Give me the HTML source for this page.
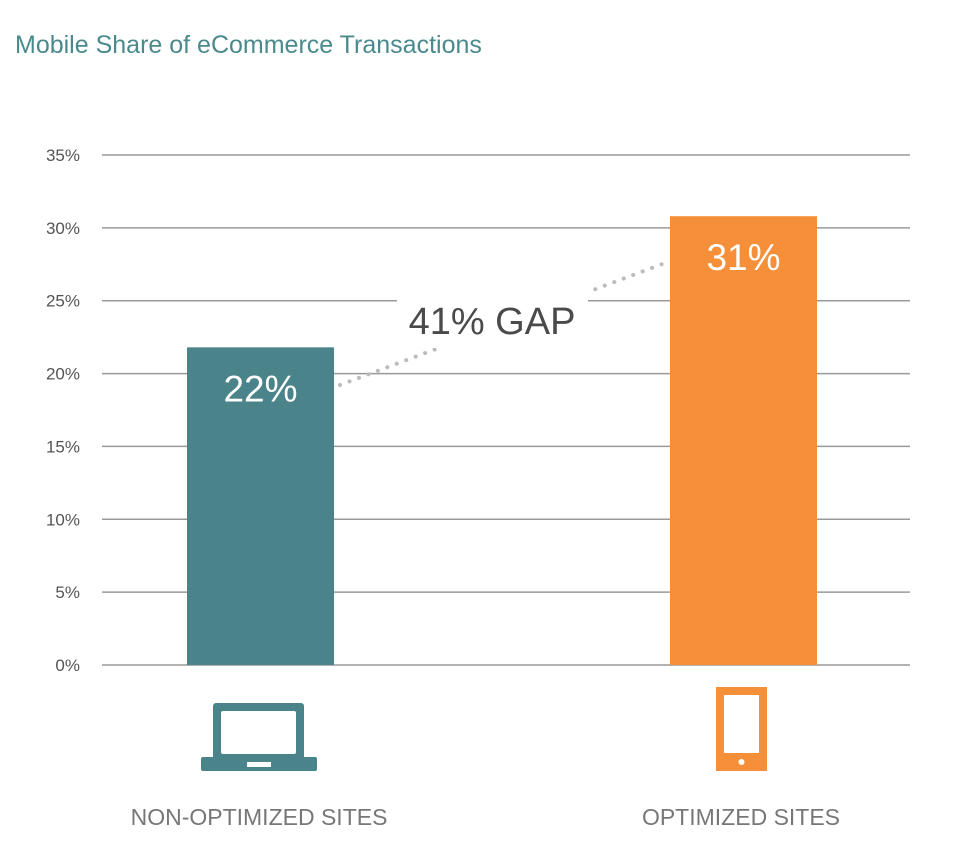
<!DOCTYPE html>
<html><head><meta charset="utf-8"><style>
body{margin:0;background:#fff;width:964px;height:844px;overflow:hidden;font-family:"Liberation Sans",sans-serif}
</style></head><body>
<svg width="964" height="844">
<text x="15" y="53" font-size="25" fill="#4a8a8c">Mobile Share of eCommerce Transactions</text>
<g id="grid"></g>
<g id="bars"></g>
<line x1="340" y1="385" x2="665" y2="263" stroke="#bbb" stroke-width="4" stroke-linecap="round" stroke-dasharray="0.1 10"/>
<rect x="397" y="290" width="191" height="58" fill="#fff"/>
<text x="492" y="334" font-size="38" fill="#4a4a4a" text-anchor="middle">41% GAP</text>
<g>
<rect x="213" y="703" width="91" height="57" rx="3" fill="#4a8389"/>
<rect x="221" y="711" width="75" height="43" rx="2" fill="#fff"/>
<rect x="201" y="757" width="116" height="14" rx="2" fill="#4a8389"/>
<rect x="247" y="762" width="24" height="5" fill="#fff"/>
</g>
<g>
<rect x="716" y="687" width="51" height="84" fill="#f68f3a"/>
<rect x="724" y="695" width="35" height="58" fill="#fff"/>
<circle cx="741.5" cy="762" r="3" fill="#fff"/>
</g>
<text x="259" y="825" font-size="23" fill="#777" text-anchor="middle">NON-OPTIMIZED SITES</text>
<text x="741" y="825" font-size="23" fill="#777" text-anchor="middle">OPTIMIZED SITES</text>
</svg>
<script>
const categories=["Non-optimized sites","Optimized sites"];
const values=[21.8,30.8];
const valueLabels=["22%","31%"];
const ticks=[0,5,10,15,20,25,30,35];
const colors=["#4a8389","#f68f3a"];
const y=v=>665-v*(510/35);
const NS="http://www.w3.org/2000/svg";
const grid=document.getElementById('grid'),bars=document.getElementById('bars');
ticks.forEach(t=>{
 const l=document.createElementNS(NS,'line');
 l.setAttribute('x1',102);l.setAttribute('x2',910);l.setAttribute('y1',y(t));l.setAttribute('y2',y(t));
 l.setAttribute('stroke','#999');l.setAttribute('stroke-width',1.5);
 
 
 grid.appendChild(l);
 const tx=document.createElementNS(NS,'text');
 tx.setAttribute('x',80);tx.setAttribute('y',y(t)+6);tx.setAttribute('text-anchor','end');
 tx.setAttribute('font-size',17);tx.setAttribute('fill','#555');tx.textContent=t+'%';
 
 
 grid.appendChild(tx);
});
const cx=[260.5,743.5];
values.forEach((v,i)=>{
 const r=document.createElementNS(NS,'rect');
 r.setAttribute('x',cx[i]-73.5);r.setAttribute('width',147);r.setAttribute('y',y(v));r.setAttribute('height',y(0)-y(v));
 r.setAttribute('fill',colors[i]);
 
 
 bars.appendChild(r);
 const tx=document.createElementNS(NS,'text');
 tx.setAttribute('x',cx[i]);tx.setAttribute('y',y(v)+54);tx.setAttribute('text-anchor','middle');
 tx.setAttribute('font-size',37);tx.setAttribute('fill','#fff');tx.textContent=valueLabels[i];
 
 
 bars.appendChild(tx);
});
</script>
</body></html>
